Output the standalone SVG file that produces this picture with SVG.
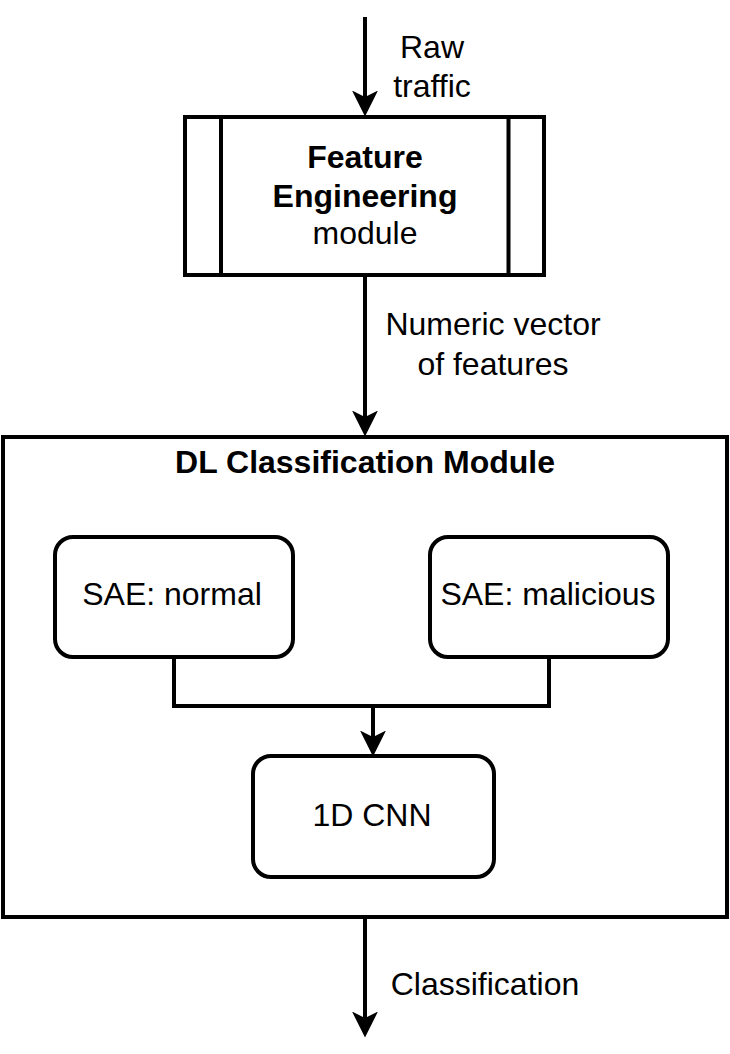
<svg xmlns="http://www.w3.org/2000/svg" width="730" height="1054" viewBox="0 0 730 1054">
<style>
.box{fill:#fff;stroke:#000;stroke-width:4}
.ln{fill:none;stroke:#000;stroke-width:4}
.t{font-family:"Liberation Sans",Arial,Helvetica,sans-serif;font-size:32px;fill:#000;text-anchor:middle}
.b{font-weight:bold}
</style>
<defs>
<marker id="arr" markerUnits="userSpaceOnUse" markerWidth="26" markerHeight="26" viewBox="0 0 24 24" refX="6" refY="12" orient="auto">
<path d="M0,0 L24,12 L0,24 L6,12 Z" fill="#000"/>
</marker>
</defs>
<rect width="730" height="1054" fill="#fff"/>
<g id="dl-module">
<rect class="box" x="3" y="437" width="724" height="480"/>
<text class="t b" x="365" y="473">DL Classification Module</text>
</g>
<g id="feature-engineering">
<rect class="box" x="185" y="117" width="359" height="158"/>
<line class="ln" x1="221" y1="117" x2="221" y2="275"/>
<line class="ln" x1="508.5" y1="117" x2="508.5" y2="275"/>
<text class="t b" x="365" y="168">Feature</text>
<text class="t b" x="365" y="207">Engineering</text>
<text class="t" x="365" y="244">module</text>
</g>
<g id="sae-normal">
<rect class="box" x="55" y="537" width="238" height="120" rx="18"/>
<text class="t" x="172" y="605">SAE: normal</text>
</g>
<g id="sae-malicious">
<rect class="box" x="430" y="537" width="238" height="120" rx="18"/>
<text class="t" x="548" y="605">SAE: malicious</text>
</g>
<g id="cnn">
<rect class="box" x="253" y="756" width="241" height="121" rx="18"/>
<text class="t" x="372" y="826">1D CNN</text>
</g>
<g id="connectors">
<path class="ln" d="M365 17 V97" marker-end="url(#arr)"/>
<path class="ln" d="M365 277 V417" marker-end="url(#arr)"/>
<path class="ln" d="M174 657 V706 H549 V657"/>
<path class="ln" d="M373 706 V737" marker-end="url(#arr)"/>
<path class="ln" d="M365 919 V1018" marker-end="url(#arr)"/>
<text class="t" x="432" y="58">Raw</text>
<text class="t" x="432" y="97">traffic</text>
<text class="t" x="493" y="335">Numeric vector</text>
<text class="t" x="493" y="375">of features</text>
<text class="t" x="485" y="995">Classification</text>
</g>
</svg>
